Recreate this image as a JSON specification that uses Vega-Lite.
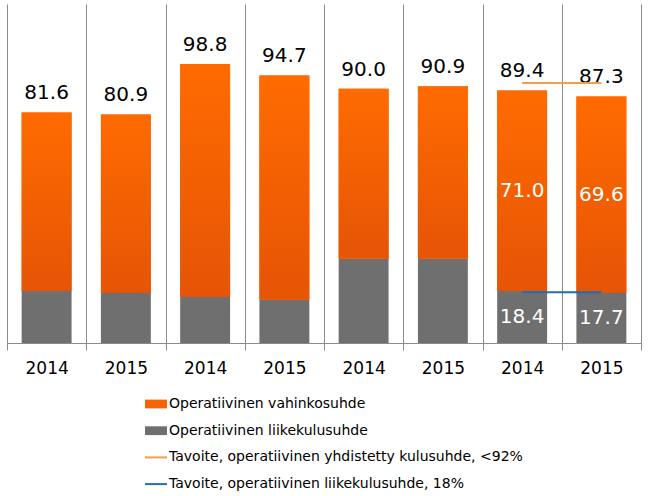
{
  "$schema": "https://vega.github.io/schema/vega-lite/v6.json",
  "width": 634,
  "height": 339,
  "autosize": {"type": "none"},
  "padding": {"left": 7, "top": 4, "right": 8, "bottom": 153},
  "background": "white",
  "config": {"view": {"stroke": null}, "font": "DejaVu Sans"},
  "datasets": {
    "bars": [
      {"bar": "2014a", "series": "Operatiivinen liikekulusuhde", "value": 18.4},
      {"bar": "2014a", "series": "Operatiivinen vahinkosuhde", "value": 63.2},
      {"bar": "2015a", "series": "Operatiivinen liikekulusuhde", "value": 17.7},
      {"bar": "2015a", "series": "Operatiivinen vahinkosuhde", "value": 63.2},
      {"bar": "2014b", "series": "Operatiivinen liikekulusuhde", "value": 16.3},
      {"bar": "2014b", "series": "Operatiivinen vahinkosuhde", "value": 82.5},
      {"bar": "2015b", "series": "Operatiivinen liikekulusuhde", "value": 15.3},
      {"bar": "2015b", "series": "Operatiivinen vahinkosuhde", "value": 79.4},
      {"bar": "2014c", "series": "Operatiivinen liikekulusuhde", "value": 29.8},
      {"bar": "2014c", "series": "Operatiivinen vahinkosuhde", "value": 60.2},
      {"bar": "2015c", "series": "Operatiivinen liikekulusuhde", "value": 29.8},
      {"bar": "2015c", "series": "Operatiivinen vahinkosuhde", "value": 61.1},
      {"bar": "2014d", "series": "Operatiivinen liikekulusuhde", "value": 18.4},
      {"bar": "2014d", "series": "Operatiivinen vahinkosuhde", "value": 71.0},
      {"bar": "2015d", "series": "Operatiivinen liikekulusuhde", "value": 17.7},
      {"bar": "2015d", "series": "Operatiivinen vahinkosuhde", "value": 69.6}
    ],
    "targets": [
      {"bar": "2014d", "bar_end": "2015d", "series": "Tavoite, operatiivinen yhdistetty kulusuhde, <92%", "value": 92},
      {"bar": "2014d", "bar_end": "2015d", "series": "Tavoite, operatiivinen liikekulusuhde, 18%", "value": 18}
    ]
  },
  "encoding": {
    "x": {
      "field": "bar",
      "type": "nominal",
      "sort": null,
      "scale": {
        "domain": ["2014a", "2015a", "2014b", "2015b", "2014c", "2015c", "2014d", "2015d"],
        "paddingInner": 0,
        "paddingOuter": 0
      },
      "axis": {
        "title": null,
        "tickBand": "extent",
        "grid": true,
        "gridColor": "#8a8a8a",
        "gridWidth": 1,
        "domainColor": "#8a8a8a",
        "tickColor": "#8a8a8a",
        "tickSize": 7,
        "labelFontSize": 17,
        "labelFont": "DejaVu Sans",
        "labelColor": "black",
        "labelPadding": 10,
        "labelAngle": 0,
        "labelExpr": "slice(datum.label, 0, 4)"
      }
    },
    "y": {
      "field": "value",
      "type": "quantitative",
      "scale": {"domain": [0, 120], "nice": false, "zero": true},
      "axis": null
    }
  },
  "layer": [
    {
      "data": {"name": "bars"},
      "mark": {"type": "bar", "width": {"band": 0.63}},
      "encoding": {
        "color": {
          "field": "series",
          "type": "nominal",
          "scale": {
            "domain": [
              "Operatiivinen vahinkosuhde",
              "Operatiivinen liikekulusuhde",
              "Tavoite, operatiivinen yhdistetty kulusuhde, <92%",
              "Tavoite, operatiivinen liikekulusuhde, 18%"
            ],
            "range": ["#f66304", "#6f6f6f", "#f0a04b", "#1f6db5"]
          },
          "legend": {
            "orient": "none",
            "legendX": 138,
            "legendY": 389,
            "title": null,
            "padding": 0,
            "rowPadding": 8.7,
            "symbolSize": 484,
            "labelFontSize": 14,
            "labelFont": "DejaVu Sans",
            "labelColor": "black",
            "labelOffset": 2,
            "labelLimit": 500,
            "symbolStrokeWidth": 0,
            "encode": {
              "symbols": {
                "update": {
                  "shape": {"signal": "indexof(datum.value, 'Tavoite') == 0 ? 'M-1,-0.09H1V0.09H-1Z' : 'M-1,-0.4H1V0.4H-1Z'"},
                  "fill": {"signal": "scale('color', datum.value)"},
                  "stroke": {"value": "transparent"},
                  "opacity": {"value": 1}
                }
              }
            }
          }
        },
        "order": {"field": "series", "sort": "ascending"}
      }
    },
    {
      "data": {"name": "bars"},
      "transform": [
        {"stack": "value", "groupby": ["bar"], "sort": [{"field": "series", "order": "ascending"}], "as": ["v0", "v1"]},
        {"filter": "datum.series === 'Operatiivinen vahinkosuhde'"}
      ],
      "mark": {
        "type": "bar",
        "width": {"band": 0.63},
        "color": {
          "gradient": "linear",
          "x1": 0, "y1": 0, "x2": 0, "y2": 1,
          "stops": [
            {"offset": 0, "color": "#ff6b00"},
            {"offset": 1, "color": "#e65406"}
          ]
        }
      },
      "encoding": {
        "y": {"field": "v1", "type": "quantitative", "scale": {"domain": [0, 120], "nice": false, "zero": true}, "axis": null},
        "y2": {"field": "v0"}
      }
    },
    {
      "data": {"name": "bars"},
      "transform": [
        {"aggregate": [{"op": "sum", "field": "value", "as": "value"}], "groupby": ["bar"]}
      ],
      "mark": {"type": "text", "baseline": "alphabetic", "dy": -13, "fontSize": 20, "color": "black"},
      "encoding": {
        "text": {"field": "value", "type": "quantitative", "format": ".1f"}
      }
    },
    {
      "data": {"name": "bars"},
      "transform": [{"filter": {"field": "bar", "oneOf": ["2014d", "2015d"]}}],
      "mark": {"type": "text", "baseline": "middle", "fontSize": 20, "color": "white"},
      "encoding": {
        "y": {
          "field": "value",
          "type": "quantitative",
          "stack": "zero",
          "bandPosition": 0.5,
          "scale": {"domain": [0, 120], "nice": false, "zero": true},
          "axis": null
        },
        "detail": {"field": "series", "type": "nominal"},
        "order": {"field": "series", "sort": "ascending"},
        "text": {"field": "value", "type": "quantitative", "format": ".1f"}
      }
    },
    {
      "data": {"name": "targets"},
      "mark": {"type": "rule", "strokeWidth": 2},
      "encoding": {
        "x2": {"field": "bar_end"},
        "color": {"field": "series", "type": "nominal"}
      }
    }
  ]
}
